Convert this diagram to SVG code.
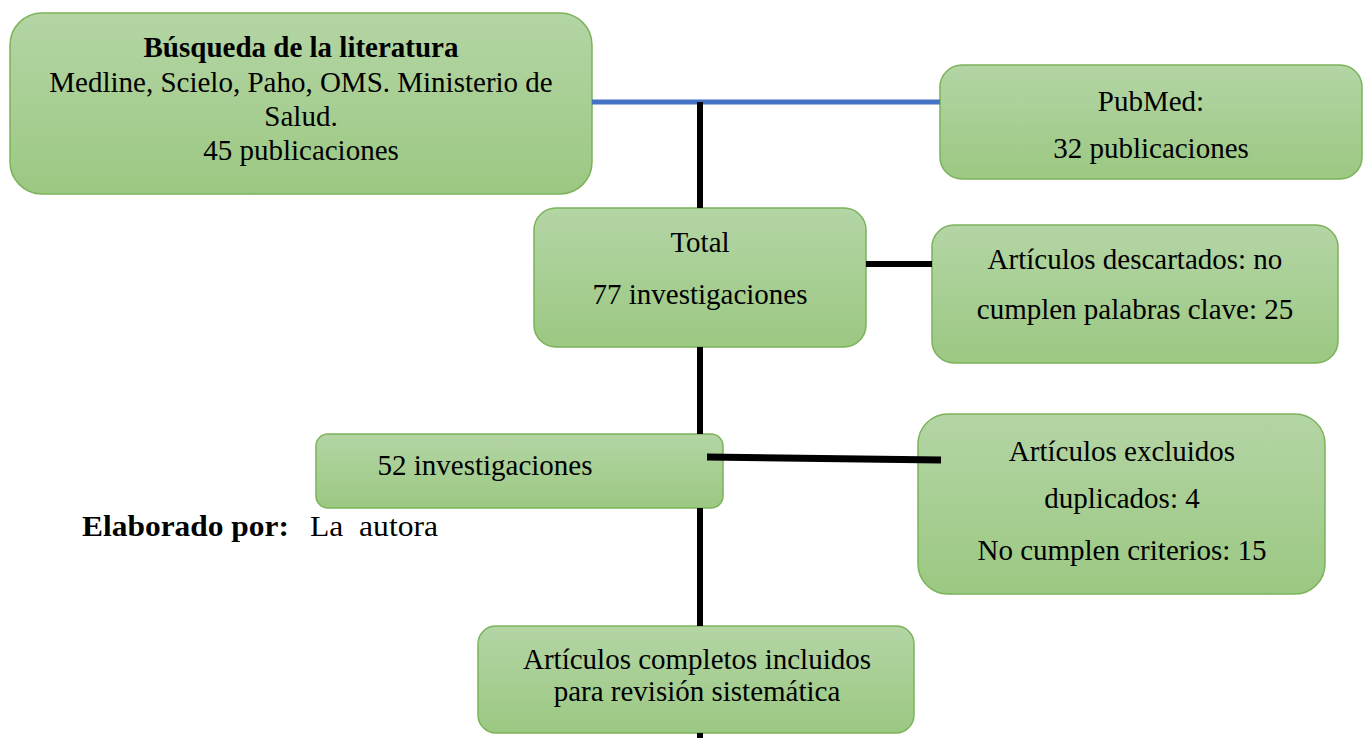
<svg xmlns="http://www.w3.org/2000/svg" width="1367" height="738" viewBox="0 0 1367 738">
<defs>
<linearGradient id="g" x1="0" y1="0" x2="0" y2="1">
<stop offset="0" stop-color="#b4d5a5"/>
<stop offset="1" stop-color="#9bc882"/>
</linearGradient>
<style>
.box{fill:url(#g);stroke:#7cb35a;stroke-width:1.5}
.t{font-family:"Liberation Serif","Times New Roman",serif;font-size:29px;fill:#000;text-anchor:middle}
.b{font-weight:bold}
.blk{stroke:#000;fill:none}
</style>
</defs>
<rect width="1367" height="738" fill="#fff"/>
<g id="n-busqueda">
<rect class="box" x="10" y="13" width="582" height="181" rx="32"/>
<text class="t b" x="301" y="57">Búsqueda de la literatura</text>
<text class="t" x="301" y="92">Medline, Scielo, Paho, OMS. Ministerio de</text>
<text class="t" x="301" y="126">Salud.</text>
<text class="t" x="301" y="160">45 publicaciones</text>
</g>
<g id="n-pubmed">
<rect class="box" x="940" y="65" width="422" height="114" rx="22"/>
<text class="t" x="1151" y="111">PubMed:</text>
<text class="t" x="1151" y="158">32 publicaciones</text>
</g>
<g id="n-total">
<rect class="box" x="534" y="208" width="332" height="139" rx="22"/>
<text class="t" x="700" y="252">Total</text>
<text class="t" x="700" y="304">77 investigaciones</text>
</g>
<g id="n-descartados">
<rect class="box" x="932" y="225" width="406" height="138" rx="22"/>
<text class="t" x="1135" y="269">Artículos descartados: no</text>
<text class="t" x="1135" y="319">cumplen palabras clave: 25</text>
</g>
<g id="n-52">
<rect class="box" x="316" y="434" width="407" height="74" rx="12"/>
<text class="t" x="485" y="475">52 investigaciones</text>
</g>
<g id="n-excluidos">
<rect class="box" x="918" y="414" width="407" height="180" rx="30"/>
<text class="t" x="1122" y="461">Artículos excluidos</text>
<text class="t" x="1122" y="508">duplicados: 4</text>
<text class="t" x="1122" y="560">No cumplen criterios: 15</text>
</g>
<g id="n-final">
<rect class="box" x="478" y="626" width="436" height="107" rx="18"/>
<text class="t" x="697" y="669">Artículos completos incluidos</text>
<text class="t" x="697" y="701">para revisión sistemática</text>
</g>
<g id="connectors">
<line x1="592" y1="102" x2="940" y2="102" stroke="#4472c4" stroke-width="5"/>
<line class="blk" x1="700" y1="102" x2="700" y2="208" stroke-width="6"/>
<line class="blk" x1="700" y1="347" x2="700" y2="434" stroke-width="6"/>
<line class="blk" x1="700" y1="508" x2="700" y2="626" stroke-width="6"/>
<line class="blk" x1="700" y1="733" x2="700" y2="738" stroke-width="6"/>
<line class="blk" x1="866" y1="264" x2="932" y2="264" stroke-width="6"/>
<line class="blk" x1="707" y1="457" x2="941" y2="460" stroke-width="7"/>
</g>
<g id="credit">
<text class="t b" x="82" y="536" style="text-anchor:start" textLength="207" lengthAdjust="spacingAndGlyphs">Elaborado por:</text>
<text class="t" x="310" y="536" style="text-anchor:start;white-space:pre" xml:space="preserve" textLength="128" lengthAdjust="spacingAndGlyphs">La  autora</text>
</g>
</svg>
